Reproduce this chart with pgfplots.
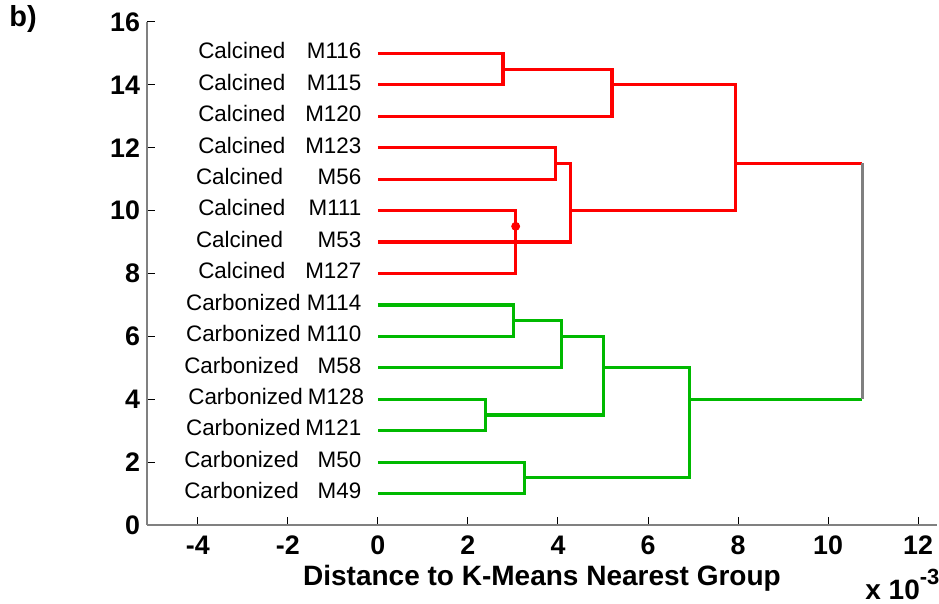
\documentclass[border=0pt]{standalone}
\usepackage{fontspec}
\setmainfont{Liberation Sans}
\usepackage{pgfplots}
\pgfplotsset{compat=1.18}

\definecolor{dgreen}{RGB}{0,185,0}
\definecolor{axgray}{RGB}{128,128,128}

\tikzset{leaf/.style={inner sep=0, font=\fontsize{11.2}{13}\selectfont}}

\begin{document}
\begin{tikzpicture}
\path[use as bounding box] (-73.5pt,-39.5pt) rectangle (396pt,262.5pt);
\begin{axis}[
    at={(0,0)}, anchor=south west,
    scale only axis,
    width=395pt, height=251.5pt,
    xmin=-5.13, xmax=12.42,
    ymin=0, ymax=16,
    axis x line=bottom, axis y line=left,
    axis line style={-, axgray, line width=0.6pt},
    xtick={-4,-2,0,2,4,6,8,10,12},
    xticklabels={-4,-2,0,2,4,6,8,10,12},
    ytick={0,2,4,6,8,10,12,14,16},
    yticklabels={0,2,4,6,8,10,12,14,16},
    tick align=inside,
    major tick length=4pt,
    tick style={black, line width=0.5pt},
    tick label style={font=\fontsize{13.4}{15}\selectfont\bfseries},
    xticklabel style={yshift=-2pt},
    xlabel={Distance to K-Means Nearest Group},
    xlabel style={font=\fontsize{14}{16}\selectfont\bfseries, at={(rel axis cs:0.5,0)}, anchor=base, yshift=-30.5pt},
    clip=false,
    line join=miter,
]
% red cluster
\addplot[red, line width=1.6pt] coordinates {(0,15) (2.78,15) (2.78,14) (0,14)};
\addplot[red, line width=1.6pt] coordinates {(2.78,14.5) (5.20,14.5) (5.20,13) (0,13)};
\addplot[red, line width=1.6pt] coordinates {(5.20,14) (7.94,14) (7.94,10) (4.28,10)};
\addplot[red, line width=1.6pt] coordinates {(0,12) (3.95,12) (3.95,11) (0,11)};
\addplot[red, line width=1.6pt] coordinates {(3.95,11.5) (4.28,11.5) (4.28,9) (0,9)};
\addplot[red, line width=1.6pt] coordinates {(0,10) (3.06,10) (3.06,8) (0,8)};
\addplot[red, line width=1.6pt] coordinates {(7.94,11.5) (10.76,11.5)};
\addplot[red, only marks, mark=*, mark size=2pt] coordinates {(3.06,9.5)};
% green cluster
\addplot[dgreen, line width=1.6pt] coordinates {(0,7) (3.02,7) (3.02,6) (0,6)};
\addplot[dgreen, line width=1.6pt] coordinates {(3.02,6.5) (4.08,6.5) (4.08,5) (0,5)};
\addplot[dgreen, line width=1.6pt] coordinates {(4.08,6) (5.02,6) (5.02,3.5) (2.39,3.5)};
\addplot[dgreen, line width=1.6pt] coordinates {(0,4) (2.39,4) (2.39,3) (0,3)};
\addplot[dgreen, line width=1.6pt] coordinates {(5.02,5) (6.93,5) (6.93,1.5) (3.26,1.5)};
\addplot[dgreen, line width=1.6pt] coordinates {(0,2) (3.26,2) (3.26,1) (0,1)};
\addplot[dgreen, line width=1.6pt] coordinates {(6.93,4) (10.76,4)};
% link between clusters
\addplot[axgray, line width=1.6pt] coordinates {(10.76,4) (10.76,11.5)};

% leaf labels
\node[leaf, anchor=mid west] at (axis cs:-4.0,15) {Calcined};
\node[leaf, anchor=mid east] at (axis cs:-0.36,15) {M116};
\node[leaf, anchor=mid west] at (axis cs:-4.0,14) {Calcined};
\node[leaf, anchor=mid east] at (axis cs:-0.36,14) {M115};
\node[leaf, anchor=mid west] at (axis cs:-4.0,13) {Calcined};
\node[leaf, anchor=mid east] at (axis cs:-0.36,13) {M120};
\node[leaf, anchor=mid west] at (axis cs:-4.0,12) {Calcined};
\node[leaf, anchor=mid east] at (axis cs:-0.36,12) {M123};
\node[leaf, anchor=mid west] at (axis cs:-4.05,11) {Calcined};
\node[leaf, anchor=mid east] at (axis cs:-0.36,11) {M56};
\node[leaf, anchor=mid west] at (axis cs:-4.0,10) {Calcined};
\node[leaf, anchor=mid east] at (axis cs:-0.36,10) {M111};
\node[leaf, anchor=mid west] at (axis cs:-4.05,9) {Calcined};
\node[leaf, anchor=mid east] at (axis cs:-0.36,9) {M53};
\node[leaf, anchor=mid west] at (axis cs:-4.0,8) {Calcined};
\node[leaf, anchor=mid east] at (axis cs:-0.36,8) {M127};
\node[leaf, anchor=mid west] at (axis cs:-4.27,7) {Carbonized};
\node[leaf, anchor=mid east] at (axis cs:-0.36,7) {M114};
\node[leaf, anchor=mid west] at (axis cs:-4.27,6) {Carbonized};
\node[leaf, anchor=mid east] at (axis cs:-0.36,6) {M110};
\node[leaf, anchor=mid west] at (axis cs:-4.31,5) {Carbonized};
\node[leaf, anchor=mid east] at (axis cs:-0.36,5) {M58};
\node[leaf, anchor=mid west] at (axis cs:-4.22,4) {Carbonized};
\node[leaf, anchor=mid east] at (axis cs:-0.30,4) {M128};
\node[leaf, anchor=mid west] at (axis cs:-4.27,3) {Carbonized};
\node[leaf, anchor=mid east] at (axis cs:-0.36,3) {M121};
\node[leaf, anchor=mid west] at (axis cs:-4.31,2) {Carbonized};
\node[leaf, anchor=mid east] at (axis cs:-0.36,2) {M50};
\node[leaf, anchor=mid west] at (axis cs:-4.31,1) {Carbonized};
\node[leaf, anchor=mid east] at (axis cs:-0.36,1) {M49};
\end{axis}
\node[anchor=base west, inner sep=0, font=\fontsize{14.5}{16}\selectfont\bfseries] at (-69pt,249pt) {b)};
\node[anchor=base west, inner sep=0, font=\fontsize{14}{16}\selectfont\bfseries] at (359pt,-37.5pt) {x 10\raisebox{0.55em}{\fontsize{11}{13}\selectfont -3}};
\end{tikzpicture}
\end{document}
